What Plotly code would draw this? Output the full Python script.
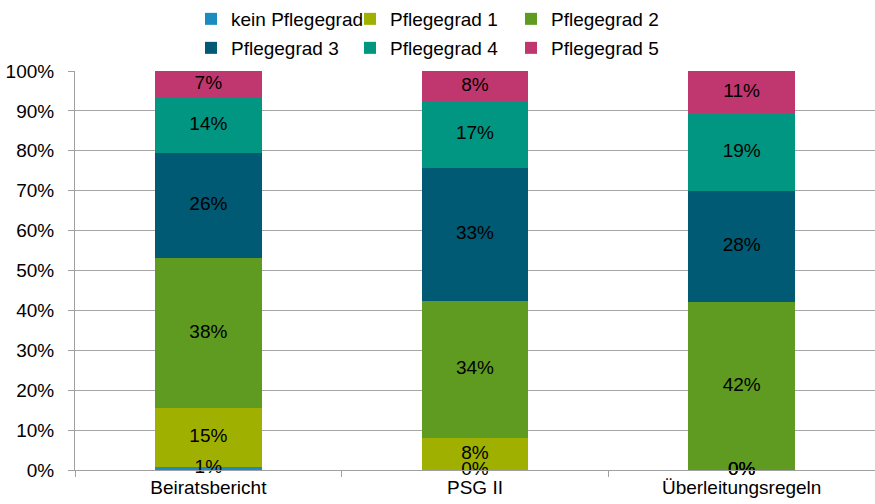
import plotly.graph_objects as go

categories = ["Beiratsbericht", "PSG II", "Überleitungsregeln"]
series_names = ["kein Pflegegrad", "Pflegegrad 1", "Pflegegrad 2",
                "Pflegegrad 3", "Pflegegrad 4", "Pflegegrad 5"]
kein = [0.7, 0.0, 0.0]
pg1 = [14.8, 8.0, 0.0]
pg2 = [37.6, 34.3, 42.0]
pg3 = [26.4, 33.4, 28.0]
pg4 = [13.8, 16.8, 19.4]
pg5 = [6.7, 7.5, 10.6]
labels = {
    "kein Pflegegrad": ["1%", "0%", "0%"],
    "Pflegegrad 1": ["15%", "8%", "0%"],
    "Pflegegrad 2": ["38%", "34%", "42%"],
    "Pflegegrad 3": ["26%", "33%", "28%"],
    "Pflegegrad 4": ["14%", "17%", "19%"],
    "Pflegegrad 5": ["7%", "8%", "11%"],
}
colors = ["#1c8cc0", "#a0b000", "#5e9b20", "#005a73", "#009682", "#c0376f"]
ytick_vals = list(range(0, 101, 10))
ytick_text = [f"{v}%" for v in ytick_vals]

series = [kein, pg1, pg2, pg3, pg4, pg5]
FONT = "Liberation Sans, Arial, sans-serif"
FS = 19

# one single-item legend per entry, laid out as 3 columns x 2 rows
legend_ids = ["legend", "legend2", "legend3", "legend4", "legend5", "legend6"]
legend_x = [191, 350, 511, 191, 350, 511]
legend_y = [19, 19, 19, 48, 48, 48]

fig = go.Figure()
for i, (name, vals) in enumerate(zip(series_names, series)):
    fig.add_trace(go.Bar(
        x=categories, y=vals, name=name,
        marker=dict(color=colors[i], line=dict(width=0)),
        legend=legend_ids[i],
        hoverinfo="skip",
    ))

# labels at segment midpoints
base = [0.0, 0.0, 0.0]
for name, vals in zip(series_names, series):
    mids = [b + v / 2 for b, v in zip(base, vals)]
    fig.add_trace(go.Scatter(
        x=categories, y=mids, mode="text", text=labels[name],
        textfont=dict(family=FONT, size=FS, color="#000000"),
        showlegend=False, hoverinfo="skip", cliponaxis=False,
    ))
    base = [b + v for b, v in zip(base, vals)]

legends = {}
for lid, lx, ly in zip(legend_ids, legend_x, legend_y):
    legends[lid] = dict(orientation="h", xref="container", x=lx / 875, xanchor="left",
                        yref="container", y=1 - ly / 504, yanchor="middle",
                        itemwidth=30, font=dict(family=FONT, size=FS),
                        bgcolor="rgba(0,0,0,0)")

fig.update_layout(
    width=875, height=504,
    barmode="stack", bargap=0.6,
    plot_bgcolor="white", paper_bgcolor="white",
    margin=dict(l=75, r=0, t=71, b=34),
    font=dict(family=FONT, size=FS, color="#000000"),
    xaxis=dict(showline=True, linecolor="#a0a0a0", linewidth=1,
               ticks="outside", tickson="boundaries", ticklen=6, tickcolor="#a0a0a0",
               tickfont=dict(family=FONT, size=FS), showgrid=False, automargin=False),
    yaxis=dict(range=[0, 100], tickvals=ytick_vals, ticktext=ytick_text,
               showline=True, linecolor="#a0a0a0", linewidth=1,
               ticks="outside", ticklen=6, tickcolor="#a0a0a0",
               showgrid=True, gridcolor="#a6a6a6", gridwidth=1,
               tickfont=dict(family=FONT, size=FS), zeroline=False,
               ticklabelstandoff=10, automargin=False),
    **legends,
)

fig.write_html("out.html", config={"displayModeBar": False},
               post_script="document.body.style.margin='0';document.body.style.overflow='hidden';")
